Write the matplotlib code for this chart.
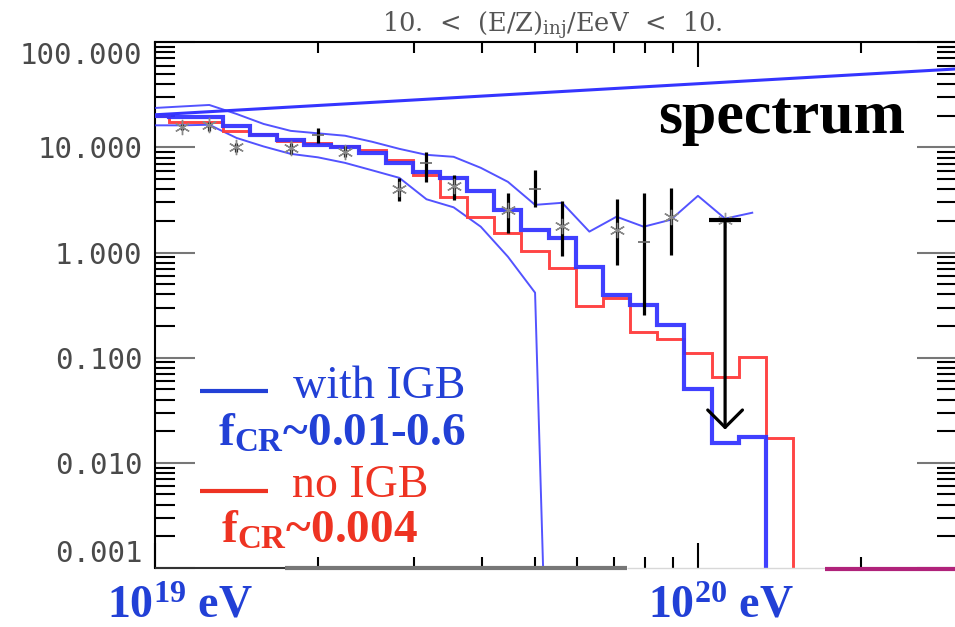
import numpy as np
import matplotlib
matplotlib.use("Agg")
import matplotlib.pyplot as plt
from matplotlib.lines import Line2D
from matplotlib.ticker import LogLocator, NullFormatter, FixedLocator, FixedFormatter

plt.rcParams['mathtext.fontset'] = 'custom'
plt.rcParams['mathtext.rm'] = 'Liberation Serif'
plt.rcParams['mathtext.bf'] = 'Liberation Serif:bold'
plt.rcParams['mathtext.it'] = 'Liberation Serif:italic'

# ---------------- data ----------------
# histogram bin centres, log10(E / eV)
log_e_bins = [19.00, 19.05, 19.10, 19.15, 19.20, 19.25, 19.30, 19.35, 19.40, 19.45,
              19.50, 19.55, 19.60, 19.65, 19.70, 19.75, 19.80, 19.85, 19.90, 19.95,
              20.00, 20.05, 20.10, 20.15, 20.20, 20.25, 20.30, 20.35, 20.40, 20.45]
bin_half_width = 0.025

with_igb = [20.0, 19.5, 19.5, 15.8, 13.2, 11.65, 10.6, 10.1, 8.77, 7.17,
            5.85, 5.13, 3.86, 2.55, 1.65, 1.37, 0.733, 0.393, 0.319, 0.204,
            0.0504, 0.0156, 0.0176, 1e-6, 1e-6, 1e-6, 1e-6, 1e-6, 1e-6, 1e-6]
no_igb = [20.0, 17.3, 17.3, 14.45, 13.4, 11.6, 11.0, 10.2, 9.37, 7.52,
          5.48, 3.39, 2.20, 1.54, 1.04, 0.718, 0.312, 0.372, 0.175, 0.152,
          0.111, 0.0655, 0.102, 0.0171, 1e-6, 1e-6, 1e-6, 1e-6, 1e-6, 1e-6]

# upper / lower envelopes of the IGB band
log_e_upper = [19.00, 19.05, 19.10, 19.15, 19.20, 19.25, 19.30, 19.35, 19.40, 19.45,
               19.50, 19.55, 19.60, 19.65, 19.70, 19.75, 19.80, 19.85, 19.90, 19.95,
               20.00, 20.05, 20.10]
upper_env = [23.7, 24.5, 25.3, 20.8, 16.7, 14.35, 13.6, 12.9, 11.3, 9.68,
             8.49, 8.13, 6.39, 4.70, 2.84, 2.97, 1.58, 2.19, 1.76, 2.05,
             3.46, 2.10, 2.39]
log_e_lower = [19.00, 19.05, 19.10, 19.15, 19.20, 19.25, 19.30, 19.35, 19.40, 19.45,
               19.50, 19.55, 19.60, 19.65, 19.70, 19.75]
lower_env = [16.2, 16.2, 16.4, 12.3, 10.2, 8.67, 8.04, 7.12, 6.05, 5.13,
             3.21, 2.69, 1.76, 0.912, 0.415, 6e-10]

# injection power law
log_e_inj = [19.0, 20.5]
inj_line = [20.4, 56.6]

# measured points
log_e_data = [19.05, 19.10, 19.15, 19.25, 19.30, 19.35, 19.45, 19.50, 19.55,
              19.65, 19.70, 19.75, 19.85, 19.90, 19.95]
flux = [15.7, 16.4, 10.1, 9.83, 13.15, 9.12, 4.01, 7.08, 4.25,
        2.55, 4.01, 1.77, 1.65, 1.27, 2.20]
flux_lo = [14.7, 14.35, 9.12, 8.67, 11.0, 8.18, 3.06, 4.73, 3.17,
           1.53, 2.69, 0.918, 0.766, 0.257, 0.953]
flux_hi = [16.7, 17.6, 11.1, 11.0, 15.3, 10.2, 5.13, 9.12, 5.48,
           3.72, 6.11, 3.10, 3.24, 3.72, 4.10]
dash_points = [19.30, 19.50, 19.70, 19.90]

# upper limit
log_e_limit = 20.05
limit_value = 2.02
limit_arrow_to = 0.0207

y_tick_values = [0.001, 0.01, 0.1, 1, 10, 100]
y_tick_labels = ["0.001", "0.010", "0.100", "1.000", "10.000", "100.000"]

title = r"10.  <  (E/Z)$_{\mathregular{inj}}$/EeV  <  10."

# ---------------- figure ----------------
W, H = 955, 627
fig = plt.figure(figsize=(W / 100, H / 100), dpi=100)
ax = fig.add_axes([155 / W, 1 - 568 / H, (957 - 155) / W, (568 - 42.2) / H])
ax.set_xscale('log')
ax.set_yscale('log')
ax.set_xlim(1e19, 3e20)
ax.set_ylim(1e-3, 100)

BLUE = '#3535ff'
RED = '#ff3b3b'

edges = 10 ** np.concatenate([np.array(log_e_bins) - bin_half_width,
                              [log_e_bins[-1] + bin_half_width]])

ax.plot(10 ** np.array(log_e_inj), inj_line, color=BLUE, lw=2.2, zorder=3)
ax.plot(10 ** np.array(log_e_upper), upper_env, color=BLUE, lw=1.4, alpha=0.85, zorder=3)
ax.plot(10 ** np.array(log_e_lower), lower_env, color=BLUE, lw=1.4, alpha=0.85, zorder=3)
ax.stairs(no_igb, edges, color=RED, lw=2.1, alpha=0.95, zorder=4, baseline=None)
ax.stairs(with_igb, edges, color=BLUE, lw=3.0, alpha=0.95, zorder=5, baseline=None)

e_data = 10 ** np.array(log_e_data)
ax.vlines(e_data, flux_lo, flux_hi, color='k', lw=2.3, zorder=6)
star_mask = np.array([le not in dash_points for le in log_e_data])
ax.plot(e_data[star_mask], np.array(flux)[star_mask], ls='none', marker=(6, 2, 0),
        ms=11, mew=1.0, color='#888888', zorder=6)
ax.plot(e_data[~star_mask], np.array(flux)[~star_mask], ls='none', marker='_',
        ms=9, mew=1.2, color='#666666', zorder=7)

e_lim = 10 ** log_e_limit
ax.plot([e_lim], [limit_value], ls='none', marker='_', ms=23, mew=3, color='k', zorder=7)
ax.plot([e_lim], [limit_value], ls='none', marker=(6, 2, 0), ms=11, mew=1.0,
        color='#999999', zorder=6)
ax.annotate('', xy=(e_lim, limit_arrow_to), xytext=(e_lim, limit_value),
            arrowprops=dict(arrowstyle='->,head_length=1.25,head_width=1.25',
                            lw=2.3, color='k', shrinkA=0, shrinkB=0), zorder=7)

# ticks
ax.yaxis.set_major_locator(FixedLocator(y_tick_values))
ax.yaxis.set_major_formatter(FixedFormatter(y_tick_labels))
ax.yaxis.set_minor_locator(LogLocator(base=10, subs=np.arange(2, 10)))
ax.yaxis.set_minor_formatter(NullFormatter())
ax.xaxis.set_major_locator(LogLocator(base=10, numticks=5))
ax.xaxis.set_minor_locator(LogLocator(base=10, subs=np.arange(2, 10), numticks=20))
ax.xaxis.set_minor_formatter(NullFormatter())
ax.tick_params(axis='y', which='major', direction='in', length=29, width=1.5,
               color='#777777', left=True, right=True, pad=9,
               labelsize=21, labelcolor='#4a4a4a')
ax.tick_params(axis='y', which='minor', direction='in', length=14.5, width=1.5,
               color='black', left=True, right=True)
ax.tick_params(axis='x', which='major', direction='in', length=18, width=1.5,
               color='black', top=True, bottom=True, labelbottom=False)
ax.tick_params(axis='x', which='minor', direction='in', length=8, width=1.5,
               color='black', top=True, bottom=True)
for lab in ax.get_yticklabels():
    lab.set_family('DejaVu Sans Mono')
labs = ax.get_yticklabels()
labs[-1].set_verticalalignment('top')
labs[0].set_verticalalignment('bottom')

for s in ['left', 'top', 'right']:
    ax.spines[s].set_linewidth(1.5)
    ax.spines[s].set_color('black')
ax.spines['bottom'].set_visible(False)


def fline(x0, x1, y, color, lw):
    fig.add_artist(Line2D([x0 / W, x1 / W], [1 - y / H, 1 - y / H],
                          transform=fig.transFigure, color=color, lw=lw,
                          solid_capstyle='butt', zorder=10))


# bottom edge (overlay-modified)
fline(155, 285, 567.5, '#333333', 1.5)
fline(285, 627, 568.3, '#777777', 3.0)
fline(627, 825, 568.3, '#d8d8d8', 1.0)
fline(825, 955, 568.5, '#b0227a', 3.0)

# title
fig.text(382 / W, 1 - 32 / H, title, ha='left', va='baseline', fontsize=18.5,
         family='DejaVu Serif', color='#555555')

# annotations
TBLUE = '#2240d6'
TRED = '#ee3322'
fig.text(658 / W, 1 - 133 / H, 'spectrum', ha='left', va='baseline',
         fontsize=44.5, family='Liberation Serif', weight='bold', color='black')

fline(200, 268, 391, TBLUE, 3.0)
fig.text(293 / W, 1 - 398 / H, 'with IGB', ha='left', va='baseline',
         fontsize=33, family='Liberation Serif', color=TBLUE)
fig.text(218 / W, 1 - 446 / H, r'f$_{\mathbf{CR}}$~0.01-0.6', ha='left', va='baseline',
         fontsize=34, family='Liberation Serif', weight='bold', color=TBLUE)
fline(200, 268, 491, TRED, 3.0)
fig.text(292 / W, 1 - 497 / H, 'no IGB', ha='left', va='baseline',
         fontsize=33, family='Liberation Serif', color=TRED)
fig.text(221 / W, 1 - 543 / H, r'f$_{\mathbf{CR}}$~0.004', ha='left', va='baseline',
         fontsize=34, family='Liberation Serif', weight='bold', color=TRED)

fig.text(107 / W, 1 - 617 / H, r'10$^{\mathbf{19}}$ eV', ha='left', va='baseline',
         fontsize=33, family='Liberation Serif', weight='bold', color=TBLUE)
fig.text(648 / W, 1 - 617 / H, r'10$^{\mathbf{20}}$ eV', ha='left', va='baseline',
         fontsize=33, family='Liberation Serif', weight='bold', color=TBLUE)

fig.savefig('out.png', dpi=100)
